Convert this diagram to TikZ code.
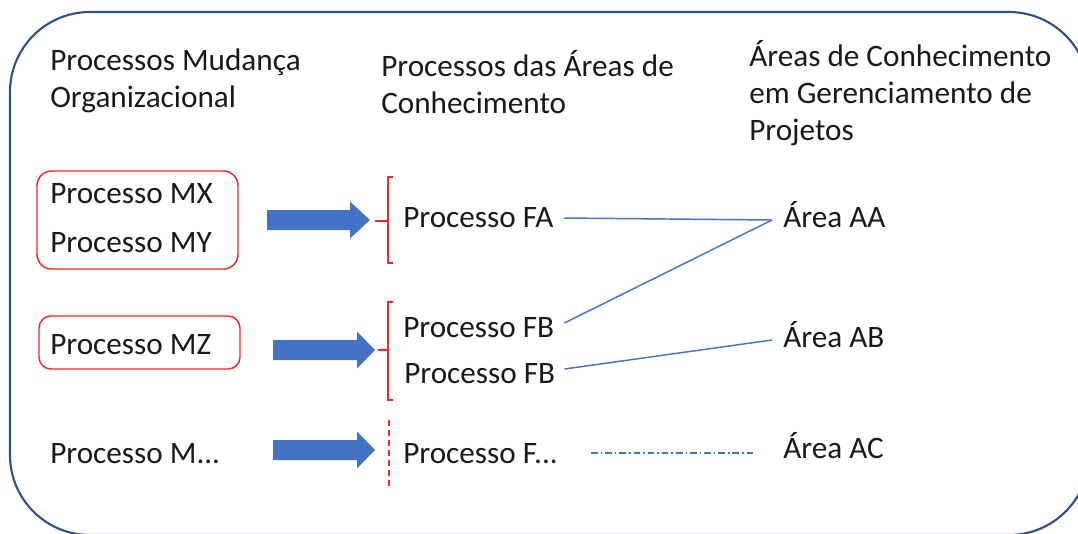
\documentclass[tikz,border=0pt]{standalone}
\usepackage{fontspec}
\setmainfont{Carlito}
\usetikzlibrary{calc}
\definecolor{frameblue}{RGB}{47,82,143}
\definecolor{accblue}{RGB}{68,114,196}
\definecolor{brred}{RGB}{255,35,35}
\definecolor{ink}{RGB}{25,25,25}
% block arrow: start x, head start x, tip x, centre y
\newcommand\blkarrow[4]{%
  \fill[accblue] (#1,#4-10) -- (#2,#4-10) -- (#2,#4-18.5) -- (#3,#4)
    -- (#2,#4+18.5) -- (#2,#4+10) -- (#1,#4+10) -- cycle;}
\begin{document}
\begin{tikzpicture}[x=0.75pt,y=-0.75pt,
  lbl/.style={anchor=base west,inner sep=0pt,text=ink,align=left,
    font=\fontsize{23.4}{27.75}\selectfont},
  frame/.style={draw=frameblue,line width=1.6pt,rounded corners=60pt},
  redbox/.style={draw=brred,line width=1.1pt},
  bracket/.style={draw=brred,line width=1.2pt},
  link/.style={draw=accblue,line width=1.1pt},
  dashlink/.style={draw=accblue,line width=0.9pt,
    dash pattern=on 5pt off 2.2pt on 1.2pt off 2.2pt}]
\useasboundingbox (0,0) rectangle (1078,533);

% outer rounded frame, running past the page edges on the right and bottom
\begin{scope}
  \clip (0,0) rectangle (1078,533);
  \draw[frame] (10,12) rectangle (1089,535);
\end{scope}

% column headers (anchored at the baseline of their last line)
\node[lbl] (h1) at (50,107) {Processos Mudança\\Organizacional};
\node[lbl] (h2) at (381,113) {Processos das Áreas de\\Conhecimento};
\node[lbl] (h3) at (749,140) {Áreas de Conhecimento\\em Gerenciamento de\\Projetos};

% change processes
\node[lbl] (mx) at (50,203) {Processo MX};
\node[lbl] (my) at (50,252) {Processo MY};
\node[lbl] (mz) at (50,354) {Processo MZ};
\node[lbl] (mdots) at (50,463) {Processo M...};
\draw[redbox,rounded corners=11pt] (37,171) rectangle (238,269);
\draw[redbox,rounded corners=9pt] (39,316) rectangle (240,369);

% block arrows
\blkarrow{267}{350}{370}{220}
\blkarrow{273}{357}{375}{350}
\blkarrow{273}{357}{375}{450}

% brackets
\draw[bracket] (393,177) -- (388,177) -- (388,263) -- (393,263);
\draw[bracket] (375,221) -- (388,221);
\draw[bracket] (393,302) -- (388,302) -- (388,400) -- (393,400);
\draw[bracket] (378,350) -- (388,350);
\draw[bracket,dash pattern=on 4.5pt off 3pt] (389,420) -- (389,486);

% knowledge-area processes
\node[lbl] (fa) at (403,227) {Processo FA};
\node[lbl] (fb1) at (403,337) {Processo FB};
\node[lbl] (fb2) at (404,383) {Processo FB};
\node[lbl] (fdots) at (403,463) {Processo F...};

% knowledge areas
\node[lbl] (aa) at (783,227) {Área AA};
\node[lbl] (ab) at (783,347) {Área AB};
\node[lbl] (ac) at (783,458) {Área AC};

% connector end points
\coordinate (fa-r) at ($(fa.base east)+(10,-9)$);
\coordinate (fb1-r) at ($(fb1.base east)+(10,-14)$);
\coordinate (fb2-r) at ($(fb2.base east)+(9,-14)$);
\coordinate (fdots-r) at ($(fdots.base east)+(33,-10)$);
\coordinate (aa-l) at ($(aa.base west)+(-11,-7)$);
\coordinate (ab-l) at ($(ab.base west)+(-11,-7)$);
\coordinate (ac-l) at ($(ac.base west)+(-30,-5)$);

\draw[link] (fa-r) -- (aa-l);
\draw[link] (fb1-r) -- (aa-l);
\draw[link] (fb2-r) -- (ab-l);
\draw[dashlink] (fdots-r) -- (ac-l);
\end{tikzpicture}
\end{document}
